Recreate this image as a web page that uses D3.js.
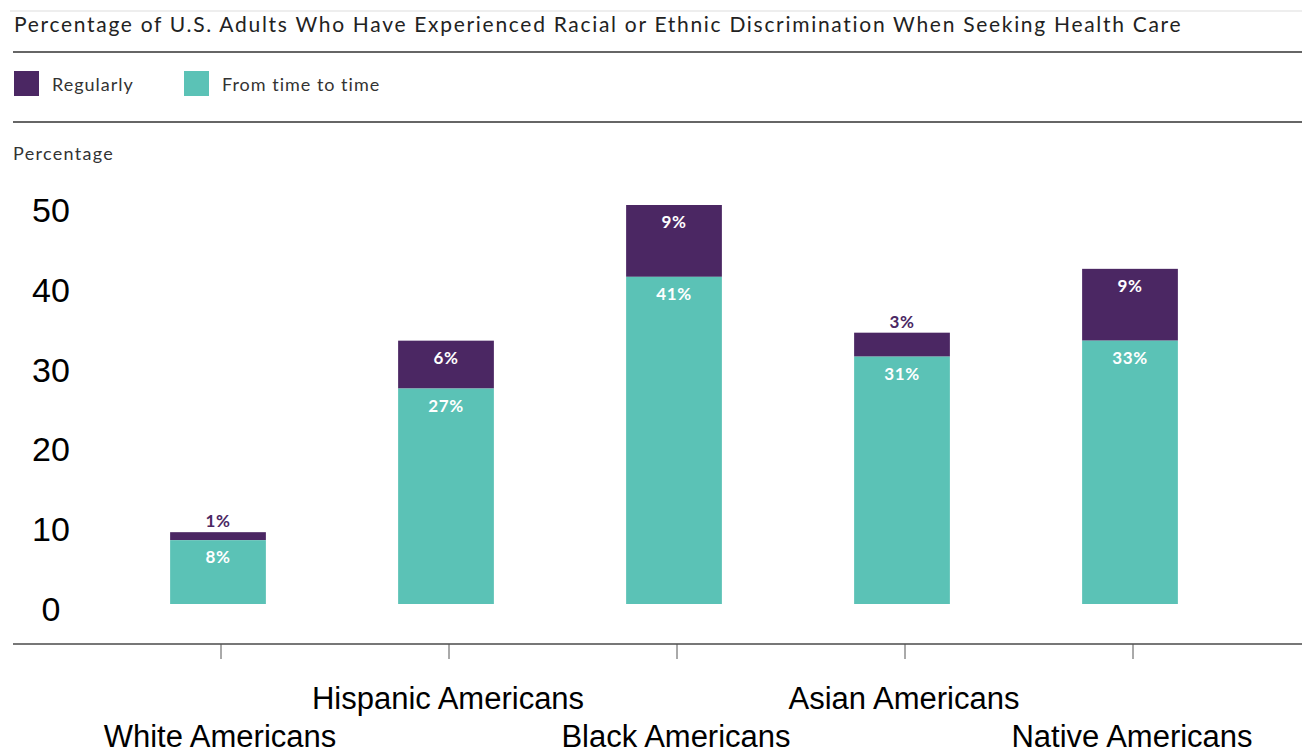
<!DOCTYPE html>
<html lang="en">
  <head>
    <meta charset="utf-8">
    <title>Discrimination in health care</title>
    <script src="https://d3js.org/d3.v7.min.js"></script>
    <style>
      body { margin: 0; background: #fff; }
    </style>
  </head>
<body>

<script>
// data
var groups = ["White Americans", "Hispanic Americans", "Black Americans", "Asian Americans", "Native Americans"];
var fromTimeToTime = [8, 27, 41, 31, 33];
var regularly = [1, 6, 9, 3, 9];
var yTicks = [0, 10, 20, 30, 40, 50];
var seriesNames = ["Regularly", "From time to time"];
var seriesColors = ["#4b2763", "#5bc2b6"];

var width = 1302, height = 754;
var svg = d3.select("body").append("svg")
    .attr("width", width)
    .attr("height", height);

var uiFont = "Lato, 'Open Sans', sans-serif";
var axisFont = "'Liberation Sans', Arial, sans-serif";

// header rules
svg.append("line").attr("x1", 10).attr("x2", width).attr("y1", 11).attr("y2", 11)
    .attr("stroke", "#dddddd").attr("stroke-width", 1);
svg.append("text")
    .attr("x", 14).attr("y", 32)
    .attr("font-family", uiFont).attr("font-size", 21)
    .attr("letter-spacing", 1.7)
    .attr("fill", "#222")
    .text("Percentage of U.S. Adults Who Have Experienced Racial or Ethnic Discrimination When Seeking Health Care");
svg.append("line").attr("x1", 13).attr("x2", width).attr("y1", 52).attr("y2", 52)
    .attr("stroke", "#666").attr("stroke-width", 2);

// legend
var legendX = [14, 184];
var legend = svg.selectAll(".legend")
    .data(seriesNames)
    .join("g")
    .attr("class", "legend")
    .attr("transform", (d, i) => `translate(${legendX[i]},71)`);
legend.append("rect")
    .attr("width", 25).attr("height", 25)
    .attr("fill", (d, i) => seriesColors[i]);
legend.append("text")
    .attr("x", 38).attr("y", 20)
    .attr("font-family", uiFont).attr("font-size", 18)
    .attr("letter-spacing", 1)
    .attr("fill", "#333")
    .text(d => d);
svg.append("line").attr("x1", 13).attr("x2", width).attr("y1", 122).attr("y2", 122)
    .attr("stroke", "#666").attr("stroke-width", 2);

svg.append("text")
    .attr("x", 13).attr("y", 160)
    .attr("font-family", uiFont).attr("font-size", 18)
    .attr("letter-spacing", 1.3)
    .attr("fill", "#333")
    .text("Percentage");

// scales
var x = d3.scaleBand()
    .domain(groups)
    .range([104, 1244])
    .paddingInner(0.58)
    .paddingOuter(0.29);

var y = d3.scaleLinear()
    .domain([0, 50])
    .range([604, 205]);

// y tick labels (no axis line in the reference)
svg.selectAll(".ytick")
    .data(yTicks)
    .join("text")
    .attr("class", "ytick")
    .attr("x", 51)
    .attr("y", d => y(d) + 17)
    .attr("text-anchor", "middle")
    .attr("font-family", axisFont).attr("font-size", 34)
    .attr("fill", "#000")
    .text(d => d);

// stacked bars
var rows = groups.map((g, i) => ({group: g, time: fromTimeToTime[i], reg: regularly[i]}));
var stack = d3.stack().keys(["reg", "time"]).order(d3.stackOrderReverse);
var layers = stack(rows);

var layer = svg.selectAll(".layer")
    .data(layers)
    .join("g")
    .attr("class", "layer")
    .attr("fill", d => d.key === "reg" ? seriesColors[0] : seriesColors[1]);

layer.selectAll("rect")
    .data(d => d)
    .join("rect")
    .attr("x", d => x(d.data.group))
    .attr("width", x.bandwidth())
    .attr("y", d => y(d[1]))
    .attr("height", d => y(d[0]) - y(d[1]));

var small = d => y(d[0]) - y(d[1]) < 25;
layer.selectAll("text")
    .data(d => d)
    .join("text")
    .attr("x", d => x(d.data.group) + x.bandwidth() / 2)
    .attr("y", d => small(d) ? y(d[1]) - 5 : y(d[1]) + 23)
    .attr("text-anchor", "middle")
    .attr("font-family", uiFont).attr("font-weight", "bold").attr("font-size", 17)
    .attr("letter-spacing", 0.6)
    .attr("fill", d => small(d) ? seriesColors[0] : "#ffffff")
    .text(d => Math.round(d[1] - d[0]) + "%");

// x axis
var xAxis = svg.append("g")
    .attr("transform", "translate(0,644)");
xAxis.append("line")
    .attr("x1", 13).attr("x2", width)
    .attr("stroke", "#777").attr("stroke-width", 2);
xAxis.selectAll(".tick")
    .data(groups)
    .join("line")
    .attr("class", "tick")
    .attr("x1", d => x(d) + x.bandwidth() / 2 + 3)
    .attr("x2", d => x(d) + x.bandwidth() / 2 + 3)
    .attr("y1", 0).attr("y2", 15)
    .attr("stroke", "#555").attr("stroke-width", 1);
xAxis.selectAll(".label")
    .data(groups)
    .join("text")
    .attr("class", "label")
    .attr("x", d => x(d) + x.bandwidth() / 2 + 2)
    .attr("y", (d, i) => i % 2 === 0 ? 103 : 65)
    .attr("text-anchor", "middle")
    .attr("font-family", axisFont).attr("font-size", 31)
    .attr("fill", "#000")
    .text(d => d);
</script>
</body>
</html>
